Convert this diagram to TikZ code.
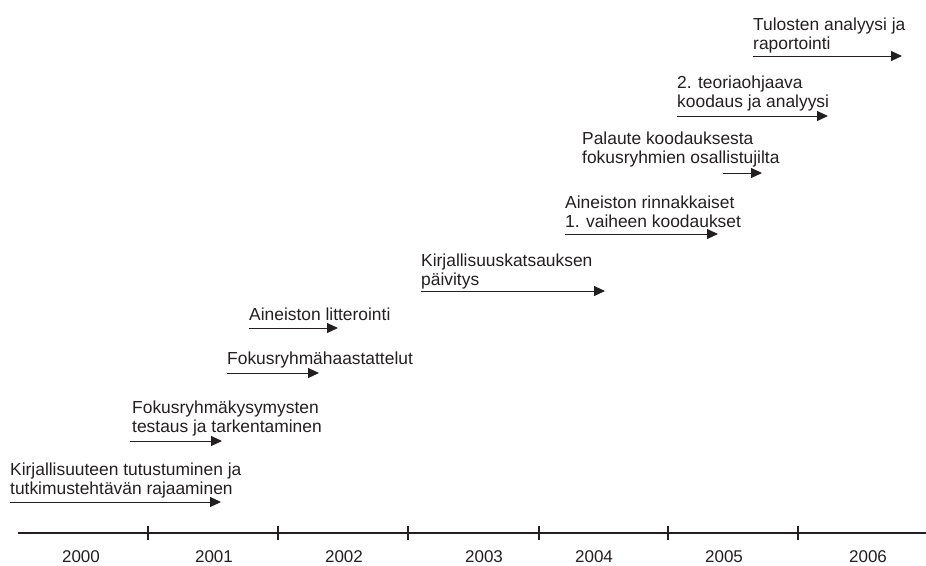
\documentclass[tikz,border=0pt]{standalone}
\usepackage{fontspec}
\setmainfont{Liberation Sans}
\usetikzlibrary{arrows.meta}
\definecolor{ink}{HTML}{231F20}
\begin{document}
\begin{tikzpicture}[x=1pt,y=-1pt,
  lbl/.style={anchor=base west,inner sep=0pt,align=left,text=ink,
    font=\fontsize{17.4}{19}\selectfont},
  yr/.style={anchor=base,inner sep=0pt,text=ink,font=\fontsize{17}{19}\selectfont},
  task/.style={draw=ink,line width=1pt,-{Triangle[length=11pt,width=10pt]}},
  axis/.style={draw=ink,line width=1.3pt},
  tick/.style={draw=ink,line width=1.3pt}]
\useasboundingbox (0,0) rectangle (926,565);

% timeline
\coordinate (tl0) at (18,533);
\coordinate (tl1) at (926,533);
\draw[axis] (tl0) -- (tl1);
\foreach \x [count=\i] in {148,278,408,539,668,798}{
  \coordinate (tk\i a) at (\x,526);
  \coordinate (tk\i b) at (\x,540);
  \draw[tick] (tk\i a) -- (tk\i b);
}
\node[yr] (y2000) at (81,562) {2000};
\node[yr] (y2001) at (214,562) {2001};
\node[yr] (y2002) at (344,562) {2002};
\node[yr] (y2003) at (484,562) {2003};
\node[yr] (y2004) at (594,562) {2004};
\node[yr] (y2005) at (724,562) {2005};
\node[yr] (y2006) at (868,562) {2006};

% tasks (base anchor = baseline of the last line)
\node[lbl] (t1) at (10,494) {Kirjallisuuteen tutustuminen ja\\tutkimustehtävän rajaaminen};
\coordinate (a1s) at (10,502); \coordinate (a1e) at (221,502);
\draw[task] (a1s) -- (a1e);

\node[lbl] (t2) at (132,432) {Fokusryhmäkysymysten\\testaus ja tarkentaminen};
\coordinate (a2s) at (130,441); \coordinate (a2e) at (222,441);
\draw[task] (a2s) -- (a2e);

\node[lbl] (t3) at (227,364) {Fokusryhmähaastattelut};
\coordinate (a3s) at (227,373); \coordinate (a3e) at (319,373);
\draw[task] (a3s) -- (a3e);

\node[lbl] (t4) at (249,320) {Aineiston litterointi};
\coordinate (a4s) at (249,328); \coordinate (a4e) at (338,328);
\draw[task] (a4s) -- (a4e);

\node[lbl] (t5) at (421,285) {Kirjallisuuskatsauksen\\päivitys};
\coordinate (a5s) at (421,291); \coordinate (a5e) at (605,291);
\draw[task] (a5s) -- (a5e);

\node[lbl] (t6) at (565,227) {Aineiston rinnakkaiset\\1. vaiheen koodaukset};
\coordinate (a6s) at (565,234); \coordinate (a6e) at (718,234);
\draw[task] (a6s) -- (a6e);

\node[lbl] (t7) at (582,163) {Palaute koodauksesta\\fokusryhmien osallistujilta};
\coordinate (a7s) at (723,173); \coordinate (a7e) at (762,173);
\draw[task] (a7s) -- (a7e);

\node[lbl] (t8) at (677,107) {2. teoriaohjaava\\koodaus ja analyysi};
\coordinate (a8s) at (677,116); \coordinate (a8e) at (828,116);
\draw[task] (a8s) -- (a8e);

\node[lbl] (t9) at (753,49) {Tulosten analyysi ja\\raportointi};
\coordinate (a9s) at (753,56); \coordinate (a9e) at (902,56);
\draw[task] (a9s) -- (a9e);
\end{tikzpicture}
\end{document}
